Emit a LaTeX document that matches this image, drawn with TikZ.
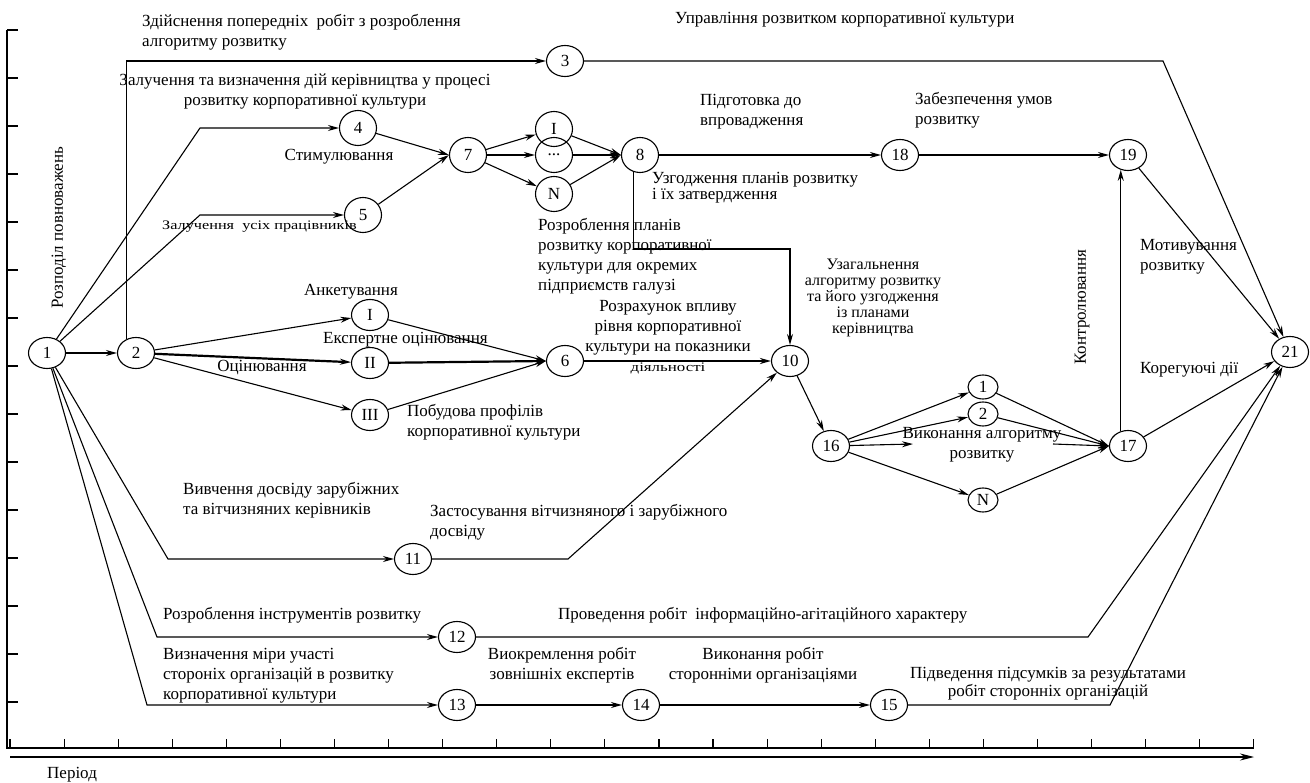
\documentclass[tikz,border=0pt]{standalone}
\usepackage{fontspec}
\setmainfont{Liberation Serif}
\usetikzlibrary{arrows.meta,shapes.geometric}

\begin{document}
\begin{tikzpicture}[x=1pt,y=-1pt,
    every node/.style={font=\fontsize{17}{20}\selectfont},
    ev/.style={ellipse, draw, line width=1.1pt, minimum width=37pt, minimum height=31pt, inner sep=0pt},
    evr/.style={ev, minimum height=35pt},
    evs/.style={ev, minimum width=30pt, minimum height=24pt},
    txt/.style={inner sep=0pt, align=left},
    ln/.style={line width=1.1pt},
    arr/.style={line width=1.1pt, -{Stealth[length=11pt,width=6pt]}},
    dbl/.style={arr, line width=2.2pt}]
  \useasboundingbox (0,0) rectangle (1310,783);
  % axes
  \draw[ln] (7,30) -- (7,748) -- (1254,748);
  \foreach \k in {0,...,14}
    \draw[ln] (7,30+48*\k) -- (18,30+48*\k);
  \foreach \k in {0,...,23}
    \draw[ln] (10+54.08*\k,748) -- ++(0,-9);
  \draw[ln,-{Stealth[length=14pt,width=7pt]}] (10,757) -- (1254,757);
  \node[txt, anchor=west] (per) at (47,775) {Період};
  \node[txt, rotate=90] (rozp) at (59,228) {Розподіл повноважень};
  % events
  \node[ev] (n1) at (47,353) {1};
  \node[ev] (n2) at (136,353) {2};
  \node[ev] (n3) at (565,61) {3};
  \node[evr] (n4) at (358,128) {4};
  \node[evr] (n5) at (363,215) {5};
  \node[evr] (n7) at (468,155) {7};
  \node[evr] (p1) at (554,129) {I};
  \node[evr] (pd) at (554,155) {...};
  \node[evr] (pN) at (554,194) {N};
  \node[evr] (n8) at (640,155) {8};
  \node[ev] (n18) at (900,155) {18};
  \node[ev] (n19) at (1128,155) {19};
  \node[ev] (n21) at (1290,352) {21};
  \node[ev] (q1) at (370,315) {I};
  \node[ev] (q2) at (370,363) {II};
  \node[ev] (q3) at (370,415) {III};
  \node[ev] (n6) at (565,361) {6};
  \node[ev] (n10) at (790,361) {10};
  \node[ev] (n16) at (831,446) {16};
  \node[evs] (r1) at (983,387) {1};
  \node[evs] (r2) at (983,414) {2};
  \node[evs] (rN) at (983,500) {N};
  \node[ev] (n17) at (1128,446) {17};
  \node[ev] (n11) at (413,559) {11};
  \node[ev] (n12) at (457,637) {12};
  \node[ev] (n13) at (457,705) {13};
  \node[ev] (n14) at (641,705) {14};
  \node[ev] (n15) at (889,705) {15};
  \coordinate (v1) at (913,444);
  \coordinate (v2) at (1053,444);
  % upper branch
  \draw[arr] (n2.125) |- (n3);
  \draw[arr] (n3) -- (1163,61) -- (n21);
  \draw[arr] (n1) -- (200,128) -- (n4);
  \draw[arr] (n1) -- (200,215) -- (n5);
  \draw[arr] (n4) -- (n7.west);
  \draw[arr] (n5) -- (n7.west);
  \draw[arr] (n7) -- (p1);
  \draw[arr] (n7) -- (pd);
  \draw[arr] (n7) -- (pN);
  \draw[arr] (p1) -- (n8.west);
  \draw[arr] (pd) -- (n8.west);
  \draw[arr] (pN) -- (n8.west);
  \draw[arr] (n8) -- (n18);
  \draw[arr] (n18) -- (n19);
  \draw[arr] (n8.250) |- (790,249) -- (n10);
  \draw[arr] (n19) -- (n21);
  % evaluation
  \draw[arr] (n1) -- (n2);
  \draw[arr] (n2) -- (q1);
  \draw[dbl] (n2) -- (q2);
  \draw[arr] (n2) -- (q3);
  \draw[arr] (q1) -- (n6.west);
  \draw[dbl] (q2) -- (n6.west);
  \draw[arr] (q3) -- (n6.west);
  \draw[dbl] (n6) -- (n10.west);
  \draw[arr] (n10) -- (n16);
  % execution
  \draw[arr] (n16) -- (r1);
  \draw[arr] (n16) -- (r2);
  \draw[arr] (n16) -- (rN);
  \draw[arr] (n16) -- (v1);
  \draw[arr] (v2) -- (n17.west);
  \draw[arr] (r1) -- (n17.west);
  \draw[arr] (r2) -- (n17.west);
  \draw[arr] (rN) -- (n17.west);
  \draw[arr] (n17.116) -- (n19.244);
  \draw[arr] (n17) -- (n21);
  % lower branches
  \draw[arr] (n1) -- (168,559) -- (n11);
  \draw[arr] (n11) -- (568,559) -- (n10);
  \draw[arr] (n1) -- (157,637) -- (n12);
  \draw[arr] (n12) -- (1088,637) -- (n21);
  \draw[arr] (n1) -- (147,705) -- (n13);
  \draw[arr] (n13) -- (n14);
  \draw[arr] (n14) -- (n15);
  \draw[arr] (n15) -- (1110,705) -- (n21);
  % labels
  \node[txt, anchor=west] (l1) at (142,32) {Здійснення попередніх\ \ робіт з розроблення\\алгоритму розвитку};
  \node[txt, anchor=west] (l2) at (675,20) {Управління розвитком корпоративної культури};
  \node[txt, align=center] (l3) at (305,92) {Залучення та визначення дій керівництва у процесі\\розвитку корпоративної культури};
  \node[txt] (l4) at (339,157) {Стимулювання};
  \node[txt, anchor=west] (l5) at (162,227) {\scalebox{1.25}[1]{\fontsize{13}{15}\selectfont Залучення\ \ усіх працівників}};
  \node[txt, anchor=west] (l6) at (700,112) {Підготовка до\\впровадження};
  \node[txt, anchor=west, font=\fontsize{17}{13}\selectfont] (l7) at (652,188) {Узгодження планів розвитку\\і їх затвердження};
  \node[txt, anchor=west] (l8) at (538,256) {Розроблення планів\\розвитку корпоративної\\культури для окремих\\підприємств галузі};
  \node[txt, anchor=west] (l9) at (915,110) {Забезпечення умов\\розвитку};
  \node[txt, anchor=west] (l10) at (1140,257) {Мотивування\\розвитку};
  \node[txt, rotate=90] (l11) at (1082,307) {Контролювання};
  \node[txt, anchor=west] (l12) at (1140,370) {Корегуючі дії};
  \node[txt, align=center, font=\fontsize{16}{16}\selectfont] (l13) at (873,298) {Узагальнення\\алгоритму розвитку\\та його узгодження\\із планами\\керівництва};
  \node[txt, align=center] (l14) at (668,337) {Розрахунок впливу\\рівня корпоративної\\культури на показники\\\scalebox{1.3}[1]{\fontsize{13}{15}\selectfont діяльності}};
  \node[txt] (l15) at (351,292) {Анкетування};
  \node[txt, anchor=west] (l16) at (323,340) {Експертне оцінювання};
  \node[txt] (l17) at (262,368) {Оцінювання};
  \node[txt, anchor=west] (l18) at (407,422) {Побудова профілів\\корпоративної культури};
  \node[txt, anchor=west] (l19) at (183,500) {Вивчення досвіду зарубіжних\\та вітчизняних керівників};
  \node[txt, anchor=west] (l20) at (430,522) {Застосування вітчизняного і зарубіжного\\досвіду};
  \node[txt, anchor=west] (l21) at (163,615) {Розроблення інструментів розвитку};
  \node[txt, anchor=west] (l22) at (558,615) {Проведення робіт\ \ інформаційно-агітаційного характеру};
  \node[txt, anchor=west] (l23) at (163,676) {Визначення міри участі\\стороніх організацій в розвитку\\корпоративної культури};
  \node[txt, align=center] (l24) at (562,665) {Виокремлення робіт\\зовнішніх експертів};
  \node[txt, align=center] (l25) at (763,665) {Виконання робіт\\сторонніми організаціями};
  \node[txt, align=center, font=\fontsize{17}{18}\selectfont] (l26) at (1048,684) {Підведення підсумків за результатами\\робіт сторонніх організацій};
  \node[txt, align=center] (l27) at (982,445) {Виконання алгоритму\\розвитку};
\end{tikzpicture}
\end{document}
